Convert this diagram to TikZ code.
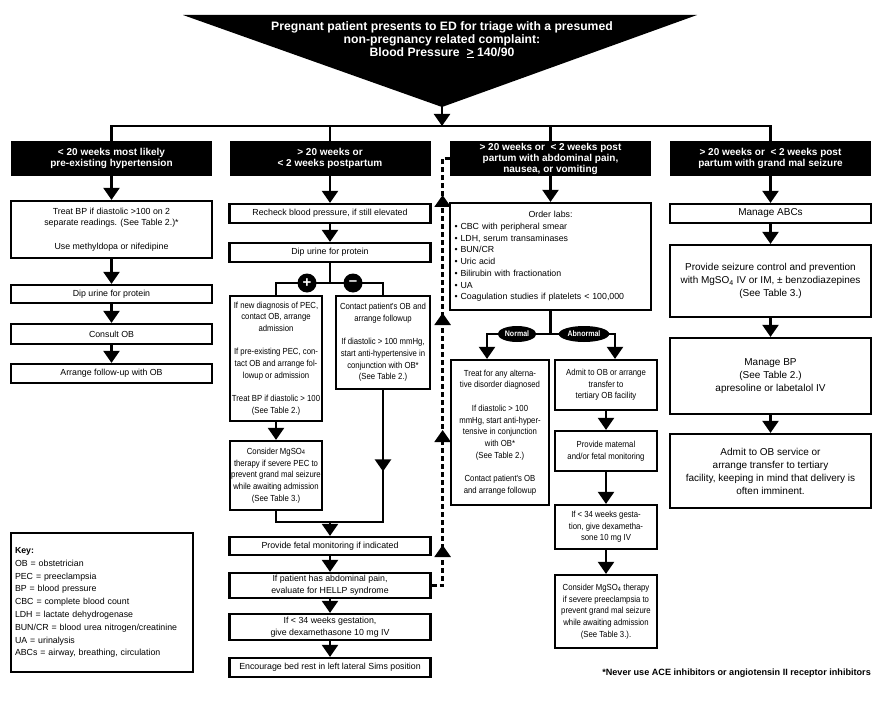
\documentclass[tikz,border=0pt]{standalone}
\usepackage{fontspec}
\setmainfont{Liberation Sans}
\newfontfamily\narrowfont[FakeStretch=0.88]{Liberation Sans}
\usetikzlibrary{arrows.meta,decorations.markings,shapes.geometric}
\tikzset{
  sz/.style 2 args={minimum width=#1pt,minimum height=#2pt},
  box/.style={draw,line width=2.2pt,fill=white,align=center,inner sep=1pt,
    font=\fontsize{8.8}{11.7}\selectfont},
  nbox/.style={box,font=\narrowfont\fontsize{8.8}{11.7}\selectfont},
  wbox/.style={box,font=\fontsize{10}{13}\selectfont},
  head/.style={fill=black,text=white,align=center,inner sep=0pt,sz={201}{35},
    font=\bfseries\fontsize{10}{11}\selectfont},
  toptext/.style={text=white,align=center,font=\bfseries\fontsize{12.2}{12.8}\selectfont},
  flow/.style={line width=2.2pt},
  tip/.style={-{Triangle[width=16pt,length=12pt]}},
  midtip/.style={postaction={decorate},decoration={markings,
    mark=at position #1 with {\arrow{Triangle[width=16pt,length=12pt]}}}},
  dashflow/.style={line width=2.6pt,dash pattern=on 5pt off 3pt,
    postaction={decorate},decoration={markings,
    mark=at position 51.5pt with {\arrow{Triangle[width=16pt,length=12pt]}},
    mark=at position 166.5pt with {\arrow{Triangle[width=16pt,length=12pt]}},
    mark=at position 283.5pt with {\arrow{Triangle[width=16pt,length=12pt]}},
    mark=at position 401.5pt with {\arrow{Triangle[width=16pt,length=12pt]}}}},
  sign/.style={circle,fill=black,text=white,inner sep=0pt,minimum size=19pt,
    font=\bfseries\fontsize{15}{15}\selectfont},
  tag/.style={ellipse,fill=black,text=white,inner xsep=1.5pt,inner ysep=0pt,minimum height=16pt,
    font=\narrowfont\bfseries\fontsize{8}{8}\selectfont},
  foot/.style={font=\bfseries\fontsize{9.1}{10}\selectfont,inner sep=0pt}
}
\begin{document}
\begin{tikzpicture}[x=1pt,y=-1pt]
\fill[white] (0,0) rectangle (882,703);
\useasboundingbox (0,0) rectangle (882,703);

% presenting complaint
\fill (183,15) -- (697,15) -- (442,107) -- cycle;
\node[toptext] (top) at (442,40) {Pregnant patient presents to ED for triage with a presumed\\non-pregnancy related complaint:\\Blood Pressure~~\underline{>} 140/90};
\coordinate (apex) at (442,106);
\coordinate (bus) at (442,126);
\draw[flow,tip] (apex) -- (bus);

% branches
\node[head] (h1) at (111.5,158.5) {< 20 weeks most likely\\pre-existing hypertension};
\node[head] (h2) at (330,158.5) {> 20 weeks or\\< 2 weeks postpartum};
\node[head] (h3) at (550.5,158.5) {> 20 weeks or~~< 2 weeks post\\partum with abdominal pain,\\nausea, or vomiting};
\node[head] (h4) at (770.5,158.5) {> 20 weeks or~~< 2 weeks post\\partum with grand mal seizure};
\draw[flow] (h1.north) -- (h1.north |- bus) -- (h4.north |- bus) -- (h4.north);
\draw[flow] (h2.north) -- (h2.north |- bus);
\draw[flow] (h3.north) -- (h3.north |- bus);

% column 1
\node[box,sz={201}{57}] (treat) at (111.5,229.5) {Treat BP if diastolic >100 on 2\\separate readings. (See Table 2.)*\\[11.7pt]Use methyldopa or nifedipine};
\node[box,sz={201}{18}] (dip1) at (111.5,294) {Dip urine for protein};
\node[box,sz={201}{20}] (consult) at (111.5,334) {Consult OB};
\node[box,sz={201}{19}] (arrange) at (111.5,373.5) {Arrange follow-up with OB};
\draw[flow,tip] (h1) -- (treat);
\draw[flow,tip] (treat) -- (dip1);
\draw[flow,tip] (dip1) -- (consult);
\draw[flow,tip] (consult) -- (arrange);

% column 2
\node[box,sz={201}{19}] (recheck) at (330,213.5) {Recheck blood pressure, if still elevated};
\node[box,sz={201}{19}] (dip2) at (330,252.5) {Dip urine for protein};
\coordinate (split2) at (330,283);
\node[nbox,sz={92}{125}] (pos) at (276,358.5) {If new diagnosis of PEC,\\contact OB, arrange\\admission\\[11.7pt]If pre-existing PEC, con-\\tact OB and arrange fol-\\lowup or admission\\[11.7pt]Treat BP if diastolic > 100\\(See Table 2.)};
\node[nbox,sz={94}{93}] (neg) at (383,342.5) {Contact patient's OB and\\arrange followup\\[11.7pt]If diastolic > 100 mmHg,\\start anti-hypertensive in\\conjunction with OB*\\(See Table 2.)};
\node[nbox,sz={92}{69}] (mg2) at (276,475.5) {Consider MgSO{\fontsize{6.5}{6}\selectfont 4}\\therapy if severe PEC to\\prevent grand mal seizure\\while awaiting admission\\(See Table 3.)};
\coordinate (join2) at (330,522);
\node[box,sz={201}{18}] (fetal) at (330,546) {Provide fetal monitoring if indicated};
\node[box,sz={201}{25}] (abdo) at (330,585.5) {If patient has abdominal pain,\\evaluate for HELLP syndrome};
\node[box,sz={201}{26}] (dexa2) at (330,627) {If < 34 weeks gestation,\\give dexamethasone 10 mg IV};
\node[box,sz={201}{19}] (bed) at (330,667.5) {Encourage bed rest in left lateral Sims position};
\draw[flow,tip] (h2) -- (recheck);
\draw[flow,tip] (recheck) -- (dip2);
\draw[flow] (dip2) -- (split2);
\draw[flow] (split2) -| (pos);
\draw[flow] (split2) -| (neg);
\node[sign] (plus) at (307,283) {+};
\node[sign] (minus) at (353,283) {\raisebox{0.5pt}{\textendash}};
\draw[flow,tip] (pos) -- (mg2);
\draw[flow] (mg2) |- (join2);
\draw[flow,midtip=0.44] (neg) |- (join2);
\draw[flow,tip] (join2) -- (fetal);
\draw[flow,tip] (fetal) -- (abdo);
\draw[flow,tip] (abdo) -- (dexa2);
\draw[flow,tip] (dexa2) -- (bed);
\draw[dashflow] (abdo.east) -- ++(11,0) |- (h3.west);

% column 3
\node[box,sz={201}{107},align=left,text width=192pt,inner xsep=4.5pt] (labs) at (550.5,256.5) {\makebox[192pt]{Order labs:}\\\textbullet\ CBC with peripheral smear\\\textbullet\ LDH, serum transaminases\\\textbullet\ BUN/CR\\\textbullet\ Uric acid\\\textbullet\ Bilirubin with fractionation\\\textbullet\ UA\\\textbullet\ Coagulation studies if platelets < 100,000};
\coordinate (split3) at (550.5,334);
\node[nbox,sz={98}{145}] (normal) at (500,432.5) {Treat for any alterna-\\tive disorder diagnosed\\[11.7pt]If diastolic > 100\\mmHg, start anti-hyper-\\tensive in conjunction\\with OB*\\(See Table 2.)\\[11.7pt]Contact patient's OB\\and arrange followup};
\node[nbox,sz={102}{50}] (abn) at (606,385) {Admit to OB or arrange\\transfer to\\tertiary OB facility};
\node[nbox,sz={102}{40}] (maternal) at (606,451) {Provide maternal\\and/or fetal monitoring};
\node[nbox,sz={102}{44}] (dexa3) at (606,527) {If < 34 weeks gesta-\\tion, give dexametha-\\sone 10 mg IV};
\node[nbox,sz={102}{73}] (mg3) at (606,611.5) {Consider MgSO\textsubscript{4} therapy\\if severe preeclampsia to\\prevent grand mal seizure\\while awaiting admission\\(See Table 3.).};
\draw[flow,tip] (h3) -- (labs);
\draw[flow] (labs) -- (split3);
\draw[flow,tip] (split3) -| ([xshift=-13pt]normal.north);
\draw[flow,tip] (split3) -| ([xshift=9pt]abn.north);
\node[tag] (tnormal) at (517,334) {Normal};
\node[tag] (tabnormal) at (584,334) {Abnormal};
\draw[flow,tip] (abn) -- (maternal);
\draw[flow,tip] (maternal) -- (dexa3);
\draw[flow,tip] (dexa3) -- (mg3);

% column 4
\node[wbox,sz={201}{19}] (abcs) at (770.5,213.5) {Manage ABCs};
\node[wbox,sz={201}{72}] (seize) at (770.5,281) {Provide seizure control and prevention\\with MgSO\textsubscript{4} IV or IM, \textpm\ benzodiazepines\\(See Table 3.)};
\node[wbox,sz={201}{76}] (bp) at (770.5,376) {Manage BP\\(See Table 2.)\\apresoline or labetalol IV};
\node[wbox,sz={201}{74}] (admit) at (770.5,471) {Admit to OB service or\\arrange transfer to tertiary\\facility, keeping in mind that delivery is\\often imminent.};
\draw[flow,tip] (h4) -- (abcs);
\draw[flow,tip] (abcs) -- (seize);
\draw[flow,tip] (seize) -- (bp);
\draw[flow,tip] (bp) -- (admit);

% key and note
\node[box,sz={182}{139},align=left,text width=174pt,inner xsep=4pt,font=\fontsize{8.8}{12.8}\selectfont] (key) at (102,602.5) {\textbf{Key:}\\OB = obstetrician\\PEC = preeclampsia\\BP = blood pressure\\CBC = complete blood count\\LDH = lactate dehydrogenase\\BUN/CR = blood urea nitrogen/creatinine\\UA = urinalysis\\ABCs = airway, breathing, circulation};
\node[foot,anchor=east] (note) at (871,673) {*Never use ACE inhibitors or angiotensin II receptor inhibitors};
\end{tikzpicture}
\end{document}
